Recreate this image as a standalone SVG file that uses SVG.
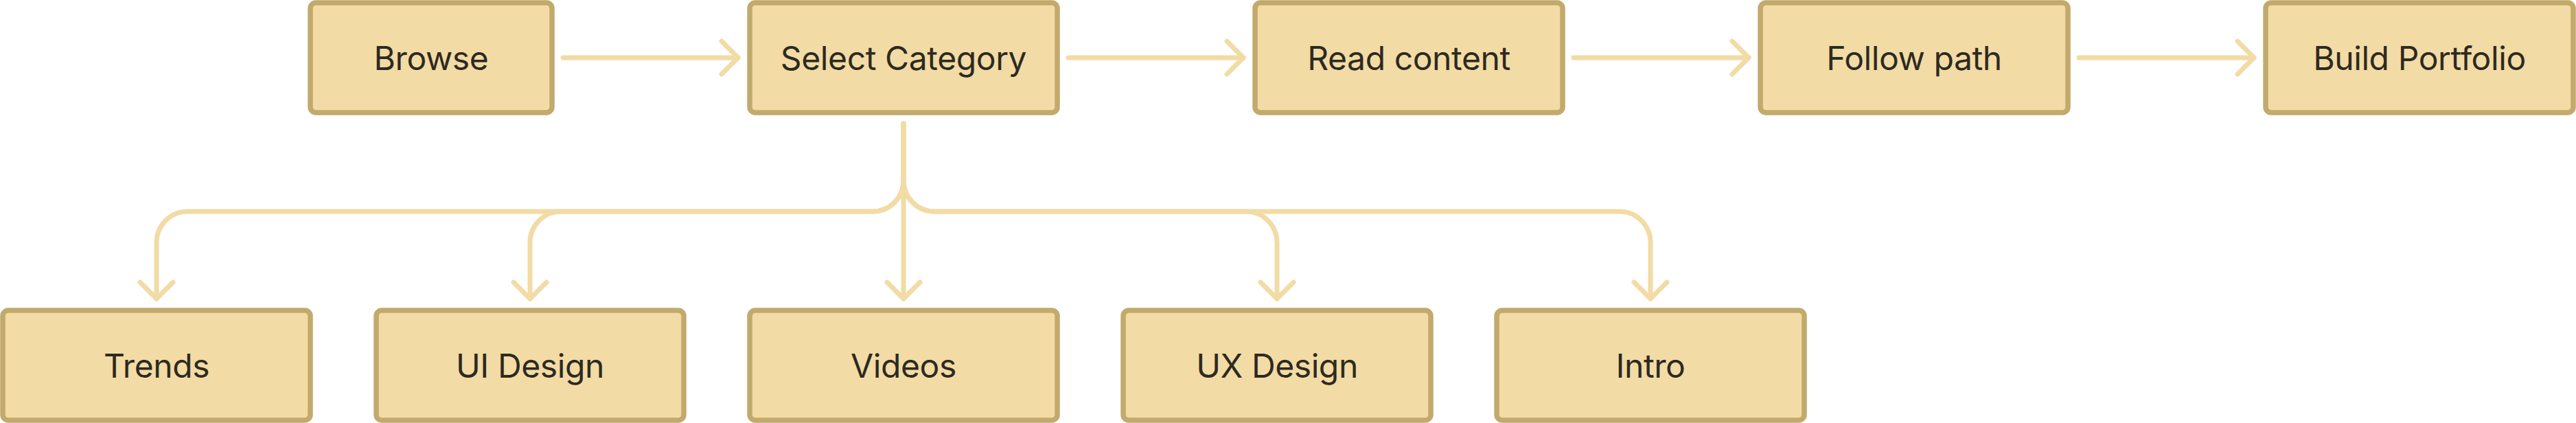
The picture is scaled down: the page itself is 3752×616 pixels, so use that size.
<svg xmlns="http://www.w3.org/2000/svg" width="3752" height="616" viewBox="0 0 3752 616">
<defs>
<style>
.node rect{fill:#f2dba5;stroke:#c2aa6d;stroke-width:7.5}
.node text{font-family:Inter,"Liberation Sans",sans-serif;font-size:48px;letter-spacing:-0.4px;fill:#2d2a20;text-anchor:middle}
.edge{fill:none;stroke:#f2dba5;stroke-width:7;stroke-linecap:round;stroke-linejoin:round}
</style>
</defs>
<rect width="3752" height="616" fill="#ffffff"/>
<g id="connectors">
<path class="edge" d="M820 84 H1075"/>
<path class="edge" d="M1051 60 L1075 84 L1051 108"/>
<path class="edge" d="M1556 84 H1811"/>
<path class="edge" d="M1787 60 L1811 84 L1787 108"/>
<path class="edge" d="M2292 84 H2547"/>
<path class="edge" d="M2523 60 L2547 84 L2523 108"/>
<path class="edge" d="M3028 84 H3283"/>
<path class="edge" d="M3259 60 L3283 84 L3259 108"/>
<path class="edge" d="M1316 180 V263 A45 45 0 0 1 1271 308 H273 A45 45 0 0 0 228 353 V435"/>
<path class="edge" d="M204 411 L228 435 L252 411"/>
<path class="edge" d="M1316 180 V263 A45 45 0 0 1 1271 308 H817 A45 45 0 0 0 772 353 V435"/>
<path class="edge" d="M748 411 L772 435 L796 411"/>
<path class="edge" d="M1316 180 V435"/>
<path class="edge" d="M1292 411 L1316 435 L1340 411"/>
<path class="edge" d="M1316 180 V263 A45 45 0 0 0 1361 308 H1815 A45 45 0 0 1 1860 353 V435"/>
<path class="edge" d="M1836 411 L1860 435 L1884 411"/>
<path class="edge" d="M1316 180 V263 A45 45 0 0 0 1361 308 H2359 A45 45 0 0 1 2404 353 V435"/>
<path class="edge" d="M2380 411 L2404 435 L2428 411"/>
</g>
<g id="browse" class="node"><rect x="452" y="4" width="352" height="160" rx="8"/><text x="628" y="101.5">Browse</text></g>
<g id="select-category" class="node"><rect x="1092" y="4" width="448" height="160" rx="8"/><text x="1316" y="101.5">Select Category</text></g>
<g id="read-content" class="node"><rect x="1828" y="4" width="448" height="160" rx="8"/><text x="2052" y="101.5">Read content</text></g>
<g id="follow-path" class="node"><rect x="2564" y="4" width="448" height="160" rx="8"/><text x="2788" y="101.5">Follow path</text></g>
<g id="build-portfolio" class="node"><rect x="3300" y="4" width="448" height="160" rx="8"/><text x="3524" y="101.5">Build Portfolio</text></g>
<g id="trends" class="node"><rect x="4" y="452" width="448" height="160" rx="8"/><text x="228" y="549.5">Trends</text></g>
<g id="ui-design" class="node"><rect x="548" y="452" width="448" height="160" rx="8"/><text x="772" y="549.5">UI Design</text></g>
<g id="videos" class="node"><rect x="1092" y="452" width="448" height="160" rx="8"/><text x="1316" y="549.5">Videos</text></g>
<g id="ux-design" class="node"><rect x="1636" y="452" width="448" height="160" rx="8"/><text x="1860" y="549.5">UX Design</text></g>
<g id="intro" class="node"><rect x="2180" y="452" width="448" height="160" rx="8"/><text x="2404" y="549.5">Intro</text></g>
</svg>
